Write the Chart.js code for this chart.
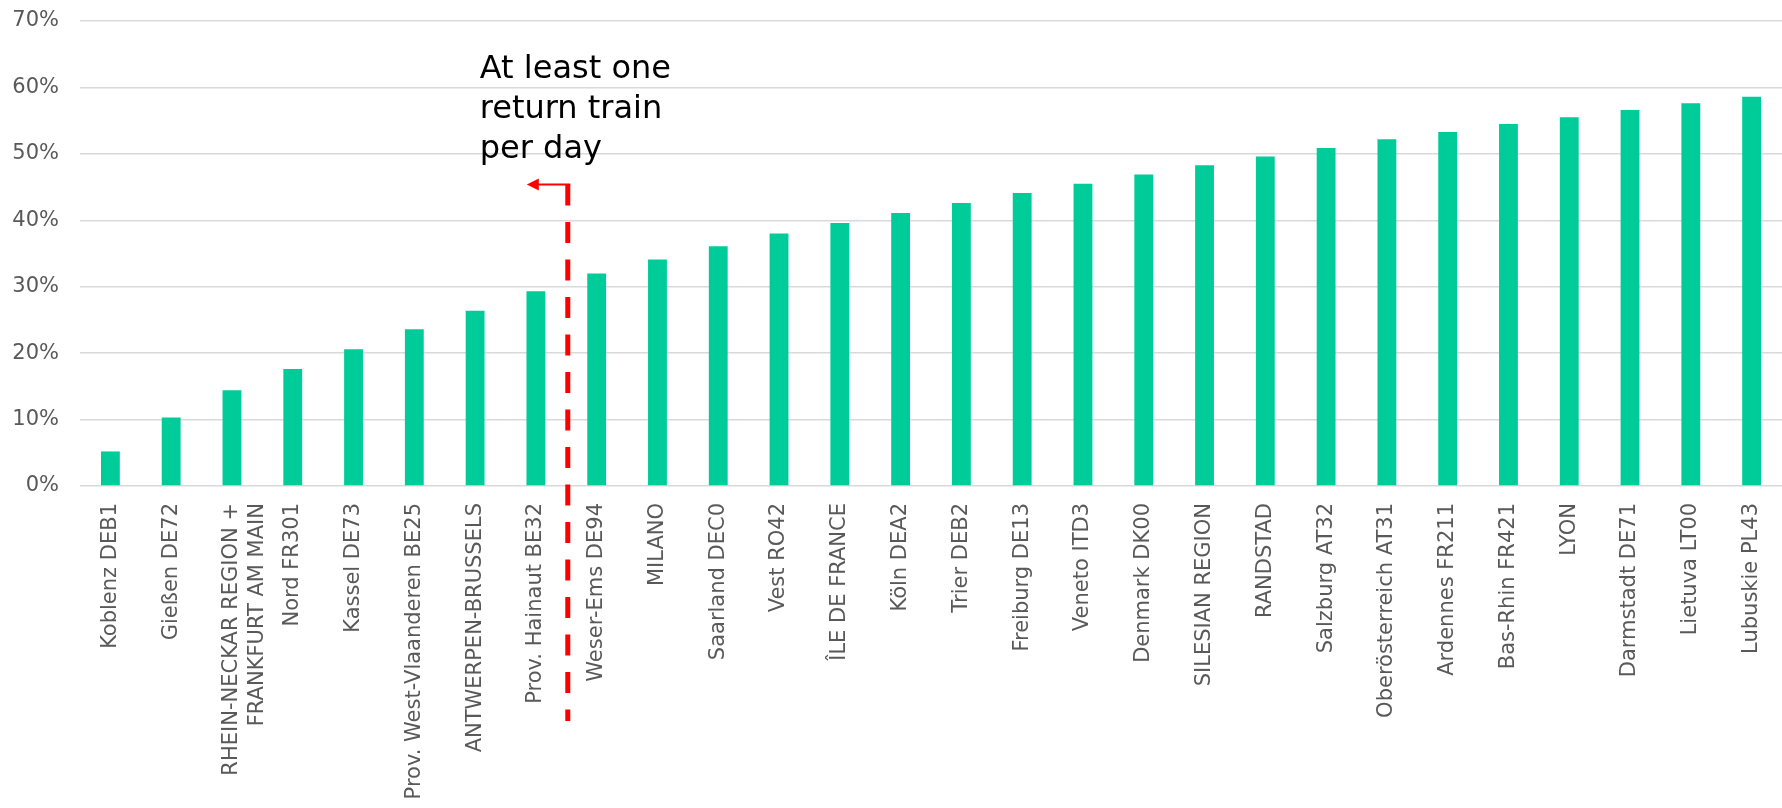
<!DOCTYPE html>
<html>
<head>
<meta charset="utf-8">
<script src="https://cdn.jsdelivr.net/npm/chart.js@4.4.1/dist/chart.umd.min.js"></script>
<style>
  html, body { margin: 0; padding: 0; background: #ffffff; }
  #wrap { width: 1782px; height: 808px; }
</style>
</head>
<body>
<div id="wrap"><canvas id="myChart" width="1782" height="808"></canvas></div>
<script>
// regions, sorted by share
const regions = [
    'Koblenz DEB1',
    'Gießen DE72',
    ['RHEIN-NECKAR REGION +', 'FRANKFURT AM MAIN'],
    'Nord FR301',
    'Kassel DE73',
    'Prov. West-Vlaanderen BE25',
    'ANTWERPEN-BRUSSELS',
    'Prov. Hainaut BE32',
    'Weser-Ems DE94',
    'MILANO',
    'Saarland DEC0',
    'Vest RO42',
    'ÎLE DE FRANCE',
    'Köln DEA2',
    'Trier DEB2',
    'Freiburg DE13',
    'Veneto ITD3',
    'Denmark DK00',
    'SILESIAN REGION',
    'RANDSTAD',
    'Salzburg AT32',
    'Oberösterreich AT31',
    'Ardennes FR211',
    'Bas-Rhin FR421',
    'LYON',
    'Darmstadt DE71',
    'Lietuva LT00',
    'Lubuskie PL43'
];

// share in percent
const shares = [
    5.2, 10.3, 14.4, 17.6, 20.6, 23.6, 26.4, 29.3, 32.0, 34.1,
    36.1, 38.0, 39.6, 41.1, 42.6, 44.1, 45.5, 46.9, 48.3, 49.6,
    50.9, 52.2, 53.3, 54.5, 55.5, 56.6, 57.6, 58.6
];

const yTicks = [0, 10, 20, 30, 40, 50, 60, 70];

// the cut-off sits between these two regions
const cutAfter = 7;
const cutLevel = 45.4;
const noteLines = ['At least one', 'return train', 'per day'];

const fontFamily = '"DejaVu Sans", Verdana, sans-serif';

// dashed red divider with a small arrow pointing left, plus the note above it
const cutoffMarker = {
    id: 'cutoffMarker',
    afterDraw(chart) {
        const ctx = chart.ctx;
        const x = (chart.scales.x.getPixelForValue(cutAfter) + chart.scales.x.getPixelForValue(cutAfter + 1)) / 2 + 1.5;
        const yTop = chart.scales.y.getPixelForValue(cutLevel);
        const yBottom = chart.chartArea.bottom + 235;

        ctx.save();
        ctx.strokeStyle = '#ff0000';
        ctx.lineWidth = 5;
        ctx.setLineDash([21, 16.5]);
        ctx.beginPath();
        ctx.moveTo(x, yTop);
        ctx.lineTo(x, yBottom);
        ctx.stroke();

        ctx.setLineDash([]);
        ctx.lineWidth = 2;
        ctx.beginPath();
        ctx.moveTo(x + 2.5, yTop);
        ctx.lineTo(x - 30, yTop);
        ctx.stroke();

        ctx.fillStyle = '#ff0000';
        ctx.beginPath();
        ctx.moveTo(x - 41, yTop);
        ctx.lineTo(x - 29, yTop - 6);
        ctx.lineTo(x - 29, yTop + 6);
        ctx.closePath();
        ctx.fill();

        ctx.fillStyle = '#000000';
        ctx.font = '32px ' + fontFamily;
        ctx.textAlign = 'left';
        ctx.textBaseline = 'alphabetic';
        for (let i = 0; i < noteLines.length; i++) {
            ctx.fillText(noteLines[i], x - 88, 78 + i * 40);
        }
        ctx.restore();
    }
};

new Chart(document.getElementById('myChart').getContext('2d'), {
    type: 'bar',
    data: {
        labels: regions,
        datasets: [{
            data: shares,
            backgroundColor: '#00cc99',
            borderWidth: 0,
            barPercentage: 0.62,
            categoryPercentage: 0.5
        }]
    },
    options: {
        responsive: false,
        animation: false,
        layout: { padding: { top: 21, right: 0, bottom: 0, left: 0 } },
        plugins: {
            legend: { display: false },
            tooltip: { enabled: false }
        },
        scales: {
            x: {
                grid: { display: false, drawTicks: false },
                border: { display: false },
                ticks: {
                    autoSkip: false,
                    maxRotation: 90,
                    minRotation: 90,
                    padding: 17,
                    color: '#595959',
                    font: { family: fontFamily, size: 21 }
                },
                afterFit(scale) {
                    scale.height = 322;
                    scale.paddingLeft = 0;
                    scale.paddingRight = 0;
                }
            },
            y: {
                min: 0,
                max: 70,
                afterBuildTicks(scale) {
                    scale.ticks = yTicks.map(v => ({ value: v }));
                },
                grid: { color: '#d9d9d9', lineWidth: 1.5, drawTicks: false },
                border: { display: false },
                ticks: {
                    padding: 21,
                    color: '#595959',
                    font: { family: fontFamily, size: 21 },
                    callback: v => v + '%'
                },
                afterFit(scale) {
                    scale.width = 80;
                    scale.paddingTop = 0;
                    scale.paddingBottom = 0;
                }
            }
        }
    },
    plugins: [cutoffMarker]
});
</script>
</body>
</html>
